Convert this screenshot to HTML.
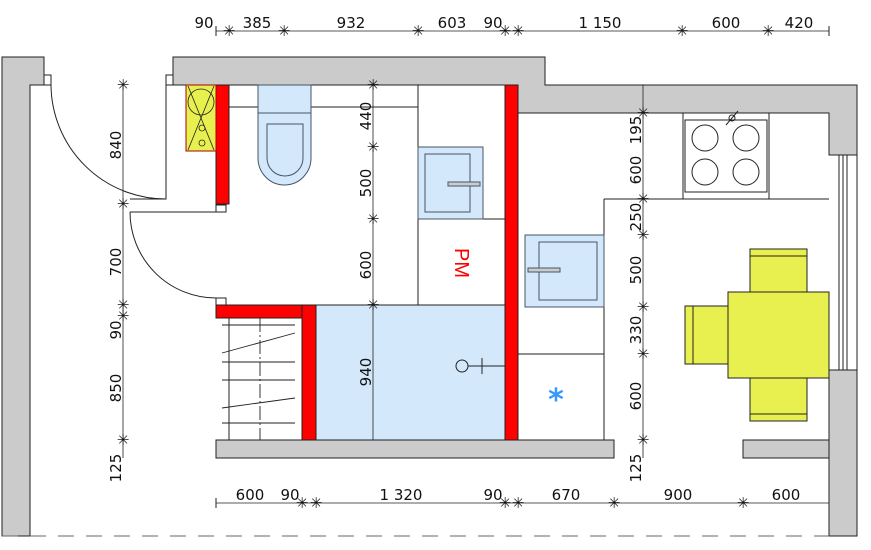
<!DOCTYPE html>
<html><head><meta charset="utf-8"><style>
html,body{margin:0;padding:0;background:#fff;width:871px;height:550px;overflow:hidden}
svg{display:block}
text{font-family:"DejaVu Sans","Liberation Sans",sans-serif;font-size:15px;fill:#111}
</style></head><body>
<svg width="871" height="550" viewBox="0 0 871 550" xmlns="http://www.w3.org/2000/svg">
<g stroke="#222" stroke-width="1">
<polygon points="2,57 44,57 44,85 30,85 30,536 2,536" fill="#cbcbcb"/>
<polygon points="173,57 545,57 545,85 857,85 857,155 829,155 829,113 518,113 518,85 173,85" fill="#cbcbcb"/>
<rect x="829" y="370" width="28" height="166" fill="#cbcbcb"/>
<rect x="216" y="440" width="398" height="18" fill="#cbcbcb"/>
<polygon points="743,440 829,440 829,458 743,458" fill="#cbcbcb"/>
<rect x="44" y="75" width="7" height="10" fill="#fff"/>
<rect x="166" y="75" width="7" height="10" fill="#fff"/>
<line x1="857" y1="155" x2="857" y2="370"/>
<rect x="839" y="155" width="8" height="215" fill="#fff"/>
<line x1="843" y1="155" x2="843" y2="370"/>
<rect x="216" y="85" width="13" height="119" fill="#f00"/>
<rect x="186" y="85" width="30" height="66" fill="#e8f050" stroke="#a00"/>
<g fill="none" stroke-width="0.8"><circle cx="201" cy="102" r="13"/><line x1="188" y1="86" x2="214" y2="150"/><line x1="214" y1="86" x2="188" y2="150"/><circle cx="202" cy="128" r="3"/><circle cx="202" cy="143" r="3"/></g>
<rect x="216" y="205" width="10" height="7" fill="#fff"/>
<rect x="216" y="305" width="100" height="13" fill="#f00"/>
<rect x="302" y="305" width="14" height="135" fill="#f00"/>
<rect x="505" y="85" width="13" height="355" fill="#f00"/>
<rect x="216" y="298" width="10" height="7" fill="#fff"/>
<polyline points="166,85 166,199 130,199" fill="none"/>
<polyline points="130,212 216,212" fill="none"/>
<path d="M51,85 A115,115 0 0 0 166,199" fill="none"/>
<path d="M130,212 A86,86 0 0 0 216,298" fill="none"/>
<line x1="229" y1="107" x2="418" y2="107"/>
<line x1="418" y1="85" x2="418" y2="305"/>
<line x1="418" y1="219" x2="505" y2="219"/>
<line x1="316" y1="305" x2="418" y2="305"/>
<rect x="258" y="85" width="53" height="28" fill="#d4e8fb" stroke="#456"/>
<path d="M258,113 L311,113 L311,158 A26.5,27 0 0 1 258,158 Z" fill="#d4e8fb" stroke="#456"/>
<path d="M267,124 L303,124 L303,158 A18,18 0 0 1 267,158 Z" fill="none" stroke="#456"/>
<rect x="418" y="147" width="65" height="72" fill="#d4e8fb" stroke="#456"/>
<rect x="425" y="154" width="45" height="58" fill="none" stroke="#456"/>
<rect x="448" y="182" width="32" height="4" fill="#ccc" stroke="#456"/>
<rect x="316" y="305" width="189" height="135" fill="#d4e8fb"/>
<circle cx="462" cy="366" r="6" fill="none"/>
<line x1="468" y1="366" x2="505" y2="366"/><line x1="482" y1="358" x2="482" y2="374"/>
<rect x="229" y="318" width="73" height="122" fill="#fff"/>
<g stroke-width="0.9"><line x1="222" y1="325" x2="295" y2="325"/><line x1="222" y1="353" x2="295" y2="333"/><line x1="222" y1="362" x2="295" y2="362"/><line x1="222" y1="380" x2="295" y2="380"/><line x1="222" y1="408" x2="295" y2="398"/><line x1="222" y1="423" x2="295" y2="423"/><line x1="260" y1="318" x2="260" y2="440" stroke-dasharray="14,3,2,3"/></g>
<line x1="604" y1="199" x2="604" y2="440"/>
<line x1="604" y1="199" x2="829" y2="199"/>
<line x1="683" y1="113" x2="683" y2="199"/><line x1="769" y1="113" x2="769" y2="199"/>
<rect x="685" y="120" width="82" height="72" fill="#fff"/>
<g fill="none"><circle cx="705" cy="138" r="13"/><circle cx="746" cy="138" r="13"/><circle cx="705" cy="172" r="13"/><circle cx="746" cy="172" r="13"/></g>
<line x1="726" y1="125" x2="738" y2="111"/><circle cx="732" cy="118" r="3" fill="none"/>
<rect x="525" y="235" width="79" height="72" fill="#d4e8fb" stroke="#456"/>
<rect x="539" y="242" width="58" height="58" fill="none" stroke="#456"/>
<rect x="528" y="268" width="32" height="4" fill="#ccc" stroke="#456"/>
<line x1="518" y1="354" x2="604" y2="354"/>
<g fill="#e8f050"><rect x="750" y="249" width="57" height="43"/><line x1="750" y1="256" x2="807" y2="256"/><rect x="750" y="378" width="57" height="43"/><line x1="750" y1="414" x2="807" y2="414"/><rect x="685" y="306" width="43" height="58"/><line x1="693" y1="306" x2="693" y2="364"/><rect x="728" y="292" width="101" height="86"/></g>
<g stroke-width="0.8">
<line x1="216" y1="31" x2="829" y2="31"/>
<line x1="216" y1="503" x2="829" y2="503"/>
<line x1="123" y1="85" x2="123" y2="458"/>
<line x1="373" y1="85" x2="373" y2="440"/>
<line x1="643" y1="85" x2="643" y2="458"/>
</g>
</g>
<g stroke="#222" stroke-width="1">
<path d="M216,26v10 M829,26v10 M216,498v10 M829,498v10"/>
</g>
<g fill="#222" text-anchor="middle" style="font-size:14px;font-family:'DejaVu Sans',sans-serif">
<text x="229" y="36">✳</text><text x="284" y="36">✳</text><text x="418" y="36">✳</text><text x="505" y="36">✳</text><text x="518" y="36">✳</text><text x="682" y="36">✳</text><text x="768" y="36">✳</text>
<text x="302" y="508">✳</text><text x="316" y="508">✳</text><text x="505" y="508">✳</text><text x="518" y="508">✳</text><text x="614" y="508">✳</text><text x="743" y="508">✳</text>
<text x="123" y="90">✳</text><text x="123" y="209">✳</text><text x="123" y="310">✳</text><text x="123" y="321">✳</text><text x="123" y="445">✳</text>
<text x="373" y="90">✳</text><text x="373" y="152">✳</text><text x="373" y="224">✳</text><text x="373" y="310">✳</text>
<text x="643" y="118">✳</text><text x="643" y="204">✳</text><text x="643" y="240">✳</text><text x="643" y="312">✳</text><text x="643" y="359">✳</text><text x="643" y="445">✳</text>
</g>
<g text-anchor="middle">
<text x="204" y="28">90</text><text x="257" y="28">385</text><text x="351" y="28">932</text><text x="452" y="28">603</text><text x="493" y="28">90</text><text x="600" y="28">1 150</text><text x="726" y="28">600</text><text x="799" y="28">420</text>
<text x="250" y="500">600</text><text x="290" y="500">90</text><text x="401" y="500">1 320</text><text x="493" y="500">90</text><text x="566" y="500">670</text><text x="678" y="500">900</text><text x="786" y="500">600</text>
<text transform="translate(121,145) rotate(-90)">840</text>
<text transform="translate(121,262) rotate(-90)">700</text>
<text transform="translate(121,330) rotate(-90)">90</text>
<text transform="translate(121,388) rotate(-90)">850</text>
<text transform="translate(121,468) rotate(-90)">125</text>
<text transform="translate(371,116) rotate(-90)">440</text>
<text transform="translate(371,183) rotate(-90)">500</text>
<text transform="translate(371,265) rotate(-90)">600</text>
<text transform="translate(371,372) rotate(-90)">940</text>
<text transform="translate(641,130) rotate(-90)">195</text>
<text transform="translate(641,170) rotate(-90)">600</text>
<text transform="translate(641,217) rotate(-90)">250</text>
<text transform="translate(641,270) rotate(-90)">500</text>
<text transform="translate(641,330) rotate(-90)">330</text>
<text transform="translate(641,396) rotate(-90)">600</text>
<text transform="translate(641,468) rotate(-90)">125</text>
<text transform="translate(455,263) rotate(90)" style="fill:#f00;font-size:20px;font-family:'Liberation Sans',sans-serif">PM</text>
<text x="556" y="410" style="fill:#3399ff;font-size:30px;font-weight:bold">*</text>
</g>
<line x1="2" y1="536" x2="829" y2="536" stroke="#666" stroke-width="1" stroke-dasharray="16,12"/>
</svg>
</body></html>
